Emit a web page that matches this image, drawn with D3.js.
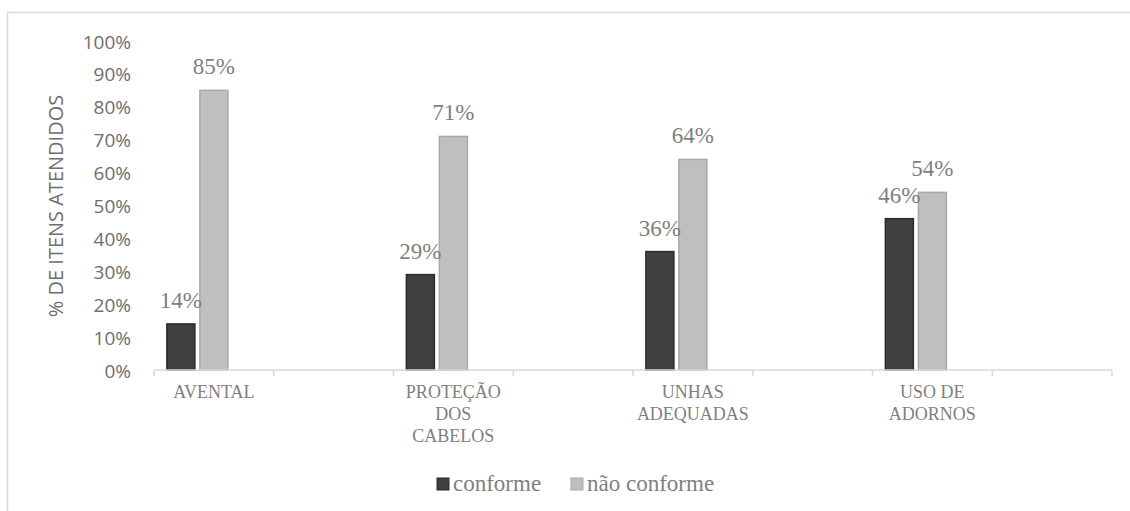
<!DOCTYPE html>
<html>
<head>
<meta charset="utf-8">
<script src="https://cdn.jsdelivr.net/npm/d3@7"></script>
<style>
  html, body { margin: 0; padding: 0; background: #ffffff; }
  svg { display: block; }
  .serif { font-family: "Liberation Serif", "Times New Roman", Times, "DejaVu Serif", serif; }
  .sans { font-family: "Open Sans", "Noto Sans", sans-serif; }
</style>
</head>
<body>
<div id="chart"></div>
<script>
// Category slots along the x axis (empty slots are left blank between groups)
const categories = ["AVENTAL", "", "PROTEÇÃO DOS CABELOS", "", "UNHAS ADEQUADAS", "", "USO DE ADORNOS", ""];
const seriesNames = ["conforme", "não conforme"];
const conforme = [0.14, null, 0.29, null, 0.36, null, 0.46, null];
const naoConforme = [0.85, null, 0.71, null, 0.64, null, 0.54, null];
const yTicks = [0, 0.1, 0.2, 0.3, 0.4, 0.5, 0.6, 0.7, 0.8, 0.9, 1.0];
const yTitle = "% DE ITENS ATENDIDOS";

const seriesValues = [conforme, naoConforme];
const seriesFill = ["#404040", "#bfbfbf"];
const seriesStroke = ["#2b2b2b", "#a9a9a9"];

const W = 1130, H = 511;
const svg = d3.select("#chart").append("svg")
  .attr("width", W).attr("height", H);

// chart area frame
svg.append("rect")
  .attr("x", 7.5).attr("y", 12.5)
  .attr("width", W + 20).attr("height", H + 20)
  .attr("fill", "none").attr("stroke", "#d9d9d9").attr("stroke-width", 1.5);

const x0 = d3.scaleBand().domain(d3.range(categories.length)).range([154, 1112]);
// three bar slots per category; the third stays empty
const x1 = d3.scaleBand().domain([0, 1, 2]).range([0, x0.bandwidth()])
  .paddingInner(0.1515).paddingOuter(0.39);
const y = d3.scaleLinear().domain([0, 1]).range([370, 41]);

// y tick labels
const yAxis = d3.axisLeft(y).tickValues(yTicks).tickFormat(d3.format(".0%")).tickSize(0).tickPadding(0);
const gy = svg.append("g").attr("transform", "translate(131,1)").call(yAxis);
gy.select(".domain").remove();
gy.attr("font-family", null).attr("font-size", null);
gy.selectAll("text")
  .attr("class", "sans")
  .style("font-size", "19px")
  .attr("fill", "#6e6e6e");

// y axis title
svg.append("text")
  .attr("class", "sans")
  .attr("transform", "translate(63,206) rotate(-90)")
  .attr("text-anchor", "middle")
  .style("font-size", "20px")
  .attr("fill", "#6e6e6e")
  .text(yTitle);

// bars
seriesValues.forEach((vals, si) => {
  svg.append("g").selectAll("rect")
    .data(vals.map((v, i) => ({ v, i })).filter(d => d.v != null))
    .join("rect")
    .attr("x", d => x0(d.i) + x1(si))
    .attr("y", d => y(d.v))
    .attr("width", x1.bandwidth())
    .attr("height", d => y(0) - y(d.v))
    .attr("fill", seriesFill[si])
    .attr("stroke", seriesStroke[si])
    .attr("stroke-width", 1.5);
});

// data labels
seriesValues.forEach((vals, si) => {
  svg.append("g").selectAll("text")
    .data(vals.map((v, i) => ({ v, i })).filter(d => d.v != null))
    .join("text")
    .attr("class", "serif")
    .attr("x", d => x0(d.i) + x1(si) + x1.bandwidth() / 2)
    .attr("y", d => y(d.v) - 16)
    .attr("text-anchor", "middle")
    .style("font-size", "23px")
    .attr("fill", "#7f7f7f")
    .text(d => d3.format(".0%")(d.v));
});

// x axis line with tick marks between slots
const gx = svg.append("g").attr("transform", "translate(0,370)");
gx.append("path")
  .attr("d", `M${x0.range()[0]},0H${x0.range()[1]}`)
  .attr("stroke", "#d9d9d9").attr("stroke-width", 1.5).attr("fill", "none");
gx.selectAll("line.tick")
  .data(d3.range(categories.length + 1))
  .join("line")
  .attr("x1", i => x0.range()[0] + i * x0.step())
  .attr("x2", i => x0.range()[0] + i * x0.step())
  .attr("y1", 0).attr("y2", 6)
  .attr("stroke", "#d9d9d9").attr("stroke-width", 1.5);

// category labels, wrapped to the slot width
const catFont = 18;
const measure = svg.append("text")
  .attr("class", "serif")
  .style("font-size", catFont + "px").attr("visibility", "hidden");
function textWidth(s) { measure.text(s); return measure.node().getComputedTextLength(); }
function wrap(label, maxW) {
  const words = label.split(" ");
  const lines = [];
  let cur = "";
  words.forEach(w => {
    const t = cur ? cur + " " + w : w;
    if (cur && textWidth(t) > maxW) { lines.push(cur); cur = w; } else { cur = t; }
  });
  if (cur) lines.push(cur);
  return lines;
}
categories.forEach((c, i) => {
  if (!c) return;
  const lines = wrap(c, x0.bandwidth() - 4);
  const t = svg.append("text")
    .attr("class", "serif")
    .attr("text-anchor", "middle")
    .style("font-size", catFont + "px")
    .attr("fill", "#7f7f7f");
  lines.forEach((ln, k) => {
    t.append("tspan")
      .attr("x", x0(i) + x0.bandwidth() / 2)
      .attr("y", 398 + k * 21.8)
      .text(ln);
  });
});
measure.remove();

// legend
const legendItems = [
  { name: seriesNames[0], x: 437 },
  { name: seriesNames[1], x: 571 }
];
legendItems.forEach((d, i) => {
  svg.append("rect")
    .attr("x", d.x).attr("y", 478)
    .attr("width", 12).attr("height", 12)
    .attr("fill", seriesFill[i]).attr("stroke", seriesStroke[i]).attr("stroke-width", 1);
  svg.append("text")
    .attr("class", "serif")
    .attr("x", d.x + 16).attr("y", 491)
    .style("font-size", "23px")
    .attr("fill", "#7f7f7f")
    .text(d.name);
});
</script>
</body>
</html>
